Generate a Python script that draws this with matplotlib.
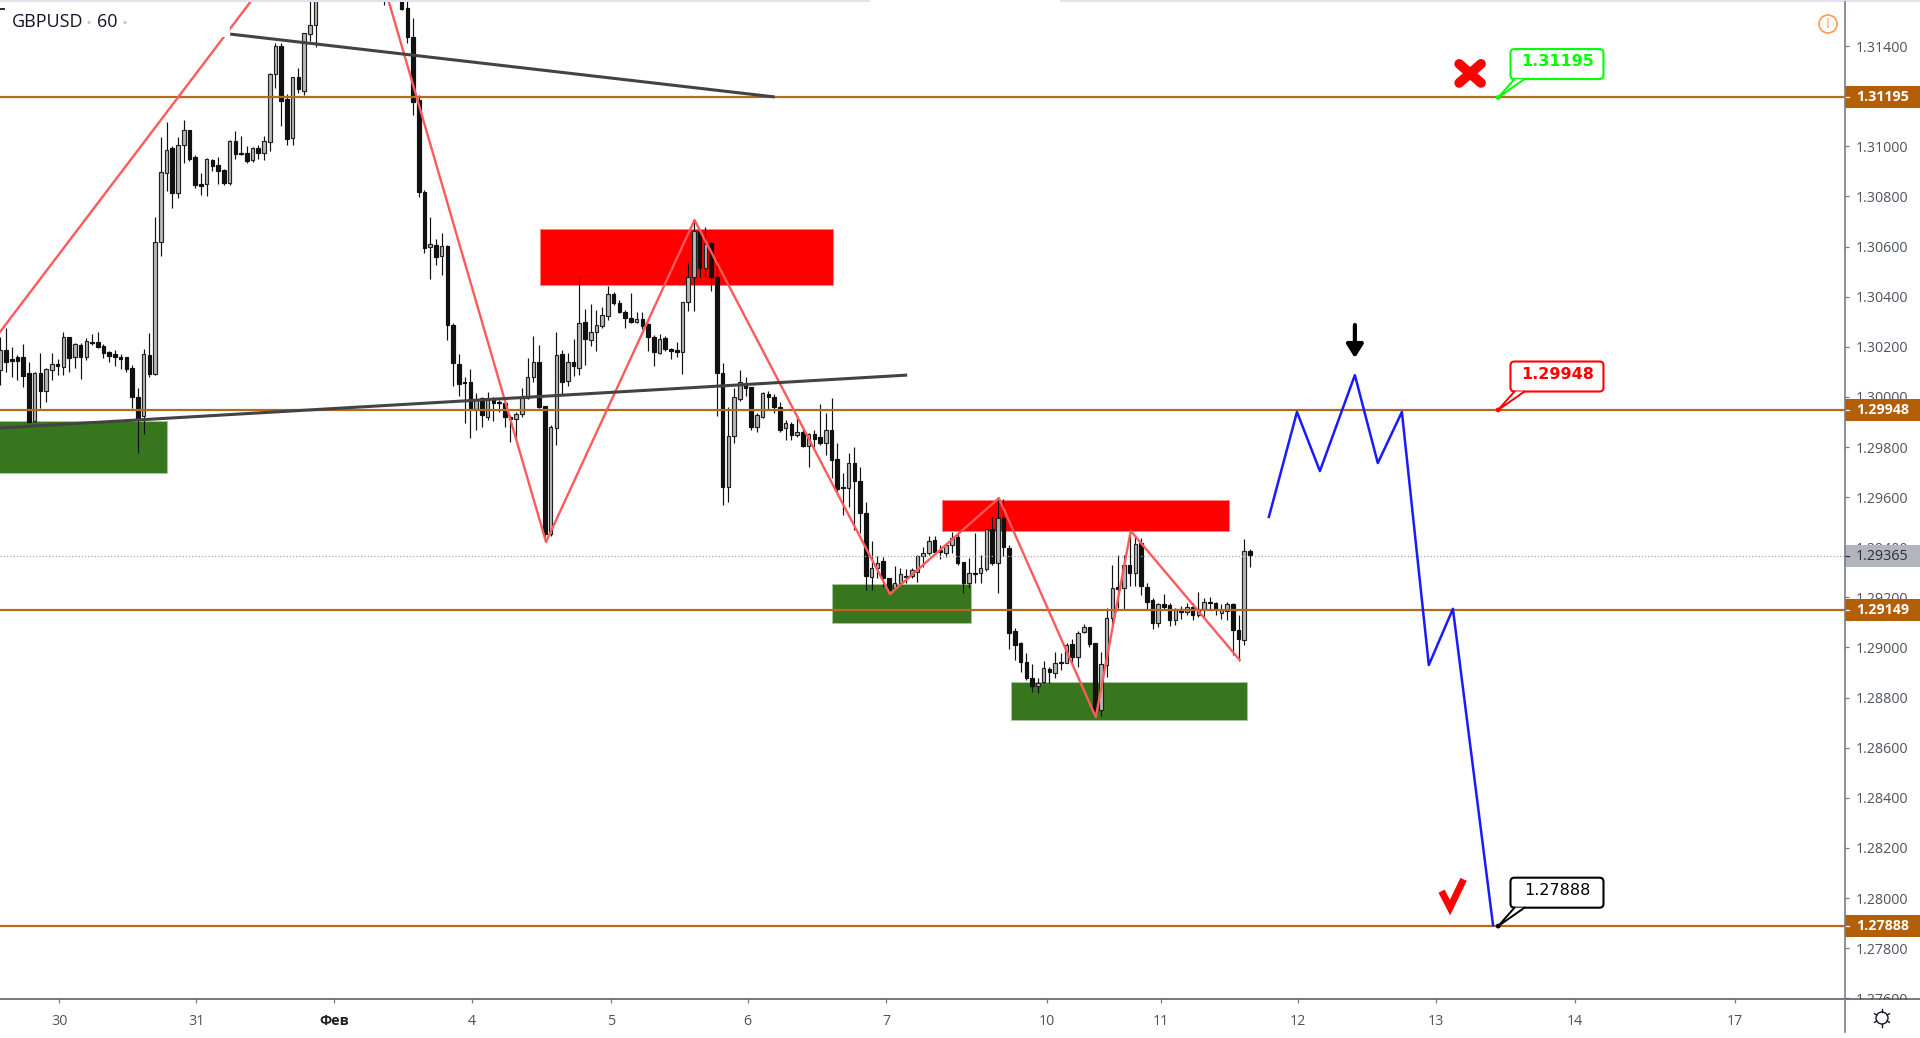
import numpy as np
import matplotlib
matplotlib.use("Agg")
import matplotlib.pyplot as plt
from matplotlib.patches import Rectangle, FancyBboxPatch, Circle, Polygon

# prices are in points above 1.0 (1e-5), None = bar is above the visible window
opens = [30107,30187,30151,30159,30159,30095,29904,30095,30023,30107,
 30131,30119,30239,30159,30207,30159,30219,30219,30203,30179,
 30171,30159,30159,30115,30000,29924,30167,30091,30618,30893,
 30993,30814,31005,31065,30957,30850,30850,30945,30925,30905,
 30854,31021,30973,30973,30945,30993,30973,31017,31289,31400,
 31189,31033,31277,31221,31448,31484,None,None,None,None,
 None,None,None,None,None,None,None,31660,None,None,
 31620,31552,31436,31185,30818,30598,30606,30562,30602,30287,
 30131,30059,30059,29952,29996,29920,29996,29980,29976,29920,
 29912,29932,29996,30079,30139,29964,29453,29876,30171,30063,
 30139,30115,30299,30227,30259,30283,30323,30411,30375,30339,
 30315,30299,30311,30291,30239,30175,30235,30191,30187,30179,
 30379,30478,30662,30514,30614,30478,30095,29640,29844,29992,
 30048,30040,29880,29920,30012,30000,29960,29876,29892,29848,
 29860,29804,29852,29840,29816,29868,29752,29640,29636,29736,
 29664,29537,29282,29318,29345,29278,29238,29258,29286,29286,
 29302,29365,29377,29429,29389,29377,29409,29441,29341,29258,
 29298,29298,29314,29473,29337,29517,29397,29066,29018,28942,
 28878,28846,28862,28914,28898,28942,28938,29014,28962,29062,
 29082,29018,28750,28930,29118,29242,29238,29329,29298,29417,
 29242,29190,29098,29174,29170,29110,29154,29142,29162,29130,
 29154,29182,29178,29138,29146,29174,29070,29030,29385]
closes = [30187,30139,30143,30143,30083,29900,30095,30023,30111,30131,
 30123,30239,30155,30211,30159,30223,30215,30199,30175,30163,
 30159,30151,30111,30000,29916,30171,30091,30618,30897,30985,
 30814,31005,31065,30949,30846,30842,30949,30921,30901,30854,
 31021,30969,30969,30941,30993,30973,31021,31289,31400,31181,
 31029,31277,31229,31452,31484,31620,None,None,None,None,
 None,None,None,None,None,None,None,31600,None,None,
 31548,31436,31177,30818,30594,30610,30558,30602,30287,30135,
 30052,30055,29952,29992,29928,29996,29976,29976,29920,29912,
 29932,29996,30079,30139,29960,29453,29880,30167,30059,30139,
 30123,30295,30231,30259,30287,30327,30411,30375,30339,30315,
 30299,30311,30283,30239,30179,30231,30191,30183,30179,30379,
 30478,30662,30514,30610,30478,30095,29640,29844,30000,30059,
 30036,29880,29928,30016,30000,29960,29868,29896,29848,29860,
 29804,29852,29832,29816,29868,29748,29632,29636,29736,29664,
 29537,29286,29318,29337,29278,29230,29258,29294,29282,29310,
 29365,29377,29425,29381,29381,29409,29437,29337,29258,29298,
 29294,29318,29473,29337,29517,29401,29058,29010,28942,28878,
 28846,28858,28918,28902,28938,28938,29010,28962,29058,29082,
 29014,28738,28934,29118,29238,29234,29329,29298,29413,29246,
 29182,29098,29174,29162,29110,29154,29142,29162,29130,29154,
 29182,29178,29154,29150,29174,29070,29034,29385,29369]
highs = [30239,30275,30199,30167,30211,30139,30099,30175,30115,30175,
 30151,30259,30239,30215,30215,30235,30251,30259,30211,30183,
 30187,30171,30159,30127,30036,30191,30255,30718,31037,31097,
 31001,31037,31105,31065,30965,30893,30953,30949,30957,30909,
 31025,31061,31041,31001,30997,31005,31041,31293,31412,31412,
 31209,31277,31313,31452,31590,31640,None,None,None,None,
 None,None,None,None,None,None,None,31700,None,None,
 31640,31590,31512,31205,30826,30718,30630,30654,30606,30295,
 30171,30079,30111,30016,30000,30020,30000,29988,29980,29928,
 29940,30036,30155,30243,30207,29964,29888,30259,30187,30175,
 30231,30471,30351,30371,30347,30359,30443,30419,30387,30347,
 30415,30339,30339,30295,30247,30251,30243,30195,30219,30379,
 30534,30706,30666,30678,30618,30550,30135,29960,30036,30107,
 30079,30040,29936,30020,30023,30012,29980,29908,29900,29920,
 29880,29856,29868,29972,29936,29996,29816,29696,29776,29800,
 29720,29581,29425,29365,29361,29278,29325,29318,29314,29318,
 29369,29401,29445,29445,29409,29417,29461,29457,29337,29357,
 29457,29369,29473,29521,29600,29592,29409,29078,29022,28978,
 28934,28878,28946,28922,28982,28978,29018,29034,29066,29094,
 29082,29018,28982,29158,29329,29369,29369,29461,29449,29437,
 29258,29198,29178,29214,29178,29158,29166,29178,29178,29222,
 29198,29202,29182,29174,29182,29178,29130,29433,29393]
lows = [30047,30099,30079,30067,30039,29896,29900,29956,29980,30067,
 30087,30087,30099,30115,30071,30147,30207,30195,30155,30139,
 30123,30111,30099,29956,29776,29852,30079,30087,30562,30822,
 30754,30794,30933,30941,30834,30806,30802,30901,30850,30846,
 30846,30949,30965,30933,30937,30949,30945,30981,31233,31081,
 31005,31005,31213,31205,31420,31396,None,None,None,None,
 None,None,None,None,None,None,None,31564,None,None,
 31544,31412,31125,30798,30574,30470,30526,30486,30227,30043,
 30004,29896,29836,29868,29880,29908,29904,29940,29880,29820,
 29836,29920,29992,30059,29956,29437,29445,29808,30008,30043,
 30083,30087,30127,30203,30183,30275,30307,30367,30335,30275,
 30295,30295,30271,30183,30123,30171,30183,30151,30159,30091,
 30343,30343,30478,30478,30423,29924,29569,29581,29816,29984,
 30004,29868,29860,29916,29952,29936,29860,29828,29828,29840,
 29800,29720,29800,29808,29768,29676,29620,29529,29561,29469,
 29457,29230,29230,29278,29242,29218,29230,29250,29258,29278,
 29262,29321,29369,29377,29353,29361,29377,29329,29218,29238,
 29258,29258,29306,29329,29218,29365,28994,28950,28902,28870,
 28822,28818,28858,28858,28878,28910,28938,28930,28922,29058,
 29002,28722,28726,28882,29078,29158,29154,29246,29246,29210,
 29154,29074,29082,29150,29086,29090,29114,29130,29110,29122,
 29114,29150,29130,29114,29110,28970,28946,29010,29321]

# x axis is bar number, one bar = 1 hour
day_ticks = [10.3,34.2,58.2,82.3,106.5,130.4,154.5,182.6,202.5,226.4,250.4,274.7,302.6]
day_labels = ['30','31','Фев','4','5','6','7','10','11','12','13','14','17']
price_ticks = [1.276,1.278,1.280,1.282,1.284,1.286,1.288,1.290,1.292,1.294,1.296,1.298,
               1.300,1.302,1.304,1.306,1.308,1.310,1.312,1.314]

levels = [1.31195,1.29948,1.29149,1.27888]
last_price = 1.29365

green_zones = [(-1,29.08,1.29696,1.29904),(145.1,169.3,1.29098,1.29253),(176.3,217.5,1.28710,1.28862)]
red_zones = [(94.1,145.2,1.30447,1.30670),(164.3,214.3,1.29465,1.29589)]

zigzag_x = [-0.05,61.1,95.2,121.1,155.2,174.2,191.1,197.2,216.2]
zigzag_y = [1.30259,1.32103,1.29421,1.30706,1.29213,1.29596,1.28722,1.29465,1.28950]
trend1_x = [40.1,135.1]
trend1_y = [1.31448,1.31197]
trend2_x = [0.0,158.2]
trend2_y = [1.29876,1.30087]
forecast_x = [221.3,226.2,230.2,236.3,240.3,244.5,249.2,253.4,260.4]
forecast_y = [1.29521,1.29940,1.29704,1.30087,1.29736,1.29940,1.28930,1.29154,1.27892]
callouts = [(261.3,1.31195,'1.31195','#00ff00'),(261.3,1.29948,'1.29948','#ff0000'),(261.3,1.27888,'1.27888','#000000')]

W, H = 1920, 1038
ORANGE = '#b25f07'
FONT = 'Open Sans'

fig = plt.figure(figsize=(W/100, H/100), dpi=100, facecolor='white')
ax = fig.add_axes([0, (H-999)/H, 1845/W, 997/H])
ax.set_xlim(-0.052, 321.8)
ax.set_ylim(1.27597, 1.31576)
for s in ax.spines.values():
    s.set_visible(False)

o = np.array(opens, dtype=float)/1e5 + 1
h = np.array(highs, dtype=float)/1e5 + 1
l = np.array(lows, dtype=float)/1e5 + 1
c = np.array(closes, dtype=float)/1e5 + 1
x = np.arange(len(o))

for x0, x1, p0, p1 in green_zones:
    ax.add_patch(Rectangle((x0, p0), x1-x0, p1-p0, fc='#38761d', ec='#a9c6a0', lw=0.7, zorder=1))
for x0, x1, p0, p1 in red_zones:
    ax.add_patch(Rectangle((x0, p0), x1-x0, p1-p0, fc='#ff0000', ec='#ff8080', lw=0.7, zorder=1))

up = c >= o
ax.vlines(x, l, h, color='#111111', lw=0.85, zorder=3)
ax.bar(x[up], (c-o)[up], bottom=o[up], width=0.62, color='#b8b8b8', edgecolor='#222222', lw=0.85, zorder=4)
ax.bar(x[~up], (c-o)[~up], bottom=o[~up], width=0.62, color='#111111', edgecolor='#111111', lw=0.85, zorder=4)

ax.axhline(last_price, color='#a8abb3', lw=0.9, ls=(0, (1, 1.6)), zorder=5)
for p in levels:
    ax.axhline(p, color='#b8691c', lw=1.6, zorder=5)

ax.plot(zigzag_x, zigzag_y, color='#ff5a5a', lw=1.7, zorder=6)
ax.plot(trend1_x, trend1_y, color='#434343', lw=2.2, zorder=7, solid_capstyle='butt')
ax.plot(trend2_x, trend2_y, color='#434343', lw=2.2, zorder=7, solid_capstyle='butt')
ax.plot(forecast_x, forecast_y, color='#1a1aff', lw=1.8, zorder=7)

# marks on the forecast
ax.plot([254.5,258.3],[1.31329,1.31253], color='#ff0000', lw=7, solid_capstyle='round', zorder=7)
ax.plot([254.5,258.3],[1.31253,1.31329], color='#ff0000', lw=7, solid_capstyle='round', zorder=7)
ax.plot([251.7,252.9,255.0],[1.28015,1.27962,1.28062], color='#ff0000', lw=5, solid_joinstyle='miter', zorder=7)
ax.annotate('', xy=(236.3,1.30155), xytext=(236.3,1.30287), zorder=7,
            arrowprops=dict(arrowstyle='-|>,head_width=0.5,head_length=0.8', color='black', lw=3, shrinkA=0, shrinkB=0))

ax.yaxis.tick_right()
ax.set_yticks(price_ticks)
ax.set_yticklabels(['%.5f' % p for p in price_ticks], fontsize=10.3, family=FONT, color='#50535e')
ax.tick_params(axis='y', length=3, width=0.9, color='#787b86', pad=5)
ax.set_xticks(day_ticks)
ax.set_xticklabels(day_labels, fontsize=10.3, family=FONT, color='#50535e')
ax.tick_params(axis='x', length=3, width=0.9, color='#787b86', pad=8)
ax.get_xticklabels()[2].set_fontweight('bold')
ax.get_xticklabels()[2].set_color('#222222')

# price tags on the scale
tr = ax.get_yaxis_transform()
right = W/1845
for p, fc, tc, wgt in [(levels[0],ORANGE,'white','bold'),(levels[1],ORANGE,'white','bold'),
                       (levels[2],ORANGE,'white','bold'),(levels[3],ORANGE,'white','bold'),
                       (last_price,'#b2b5be','#2a2e39','normal')]:
    ax.add_patch(Rectangle((1.0, p-0.00044), right-1, 0.00088, transform=tr, fc=fc, ec='none', clip_on=False, zorder=10))
    ax.plot([1.0, 1849/1845], [p, p], transform=tr, color=tc, lw=0.9, clip_on=False, zorder=11)
    ax.text(1856/1845, p, '%.5f' % p, transform=tr, color=tc, fontsize=10.3, family=FONT, fontweight=wgt,
            va='center', ha='left', clip_on=False, zorder=11)

# overlay in pixels for chart furniture
ov = fig.add_axes([0, 0, 1, 1], facecolor='none')
ov.set_xlim(0, W)
ov.set_ylim(H, 0)
ov.axis('off')
ov.add_patch(Rectangle((1846, 1000), 74, 38, fc='white', ec='none'))
ov.add_patch(Rectangle((0, 0), 870, 2.2, fc='#e0e3eb', ec='none'))
ov.add_patch(Rectangle((1060, 0), 860, 2.2, fc='#e0e3eb', ec='none'))
ov.plot([0, W], [999, 999], color='#50535e', lw=1.1)
ov.plot([1845, 1845], [2, 1032], color='#787b86', lw=1.2)
ov.add_patch(Rectangle((222, 28), 8, 9, fc='white', ec='none'))
ov.add_patch(Rectangle((0, 8), 5, 2, fc='#333333', ec='none'))

ov.text(11.5, 22, 'GBPUSD', fontsize=13, family=FONT, color='#131722', va='center')
ov.text(97, 22, '60', fontsize=13, family=FONT, color='#131722', va='center')
for px in [89, 125]:
    ov.add_patch(Circle((px, 22.5), 1.6, fc='#c4c7cf', ec='none'))

# warning icon
ov.add_patch(Circle((1828, 24), 9, fc='white', ec='#ff9a55', lw=1.2))
ov.text(1828, 24, '!', color='#ff9a55', fontsize=10, family=FONT, ha='center', va='center')

# settings icon
ov.add_patch(Circle((1882, 1018), 6, fc='white', ec='#131722', lw=1.0))
for a in np.arange(0, 2*np.pi, np.pi/3):
    ov.plot([1882+6*np.cos(a+np.pi/2), 1882+8.6*np.cos(a+np.pi/2)],
            [1018+6*np.sin(a+np.pi/2), 1018+8.6*np.sin(a+np.pi/2)], color='#131722', lw=1.0)

# callouts anchored on the price axis
fig.canvas.draw()
for xb, p, txt, col in callouts:
    px, py = ax.transData.transform((xb, p))
    py = H - py
    ov.add_patch(FancyBboxPatch((px+12.3, py-48.4), 93, 30, boxstyle='round,pad=0,rounding_size=4',
                                fc='white', ec=col, lw=1.5, zorder=12))
    ov.add_patch(Polygon([(px, py), (px+16.3, py-18.4), (px+26.3, py-18.4)], closed=True, fc='white', ec='none', zorder=13))
    ov.plot([px+16.3, px, px+26.3], [py-18.4, py, py-18.4], color=col, lw=1.4, zorder=14)
    ov.add_patch(Circle((px, py), 2.4, fc=col, ec='none', zorder=15))
    ov.text(px+59.3, py-35.5, txt, color=col, fontsize=11.5, family='DejaVu Sans', ha='center', va='center',
            fontweight='normal' if col == '#000000' else 'semibold', zorder=15)

fig.savefig('out.png', dpi=100)
